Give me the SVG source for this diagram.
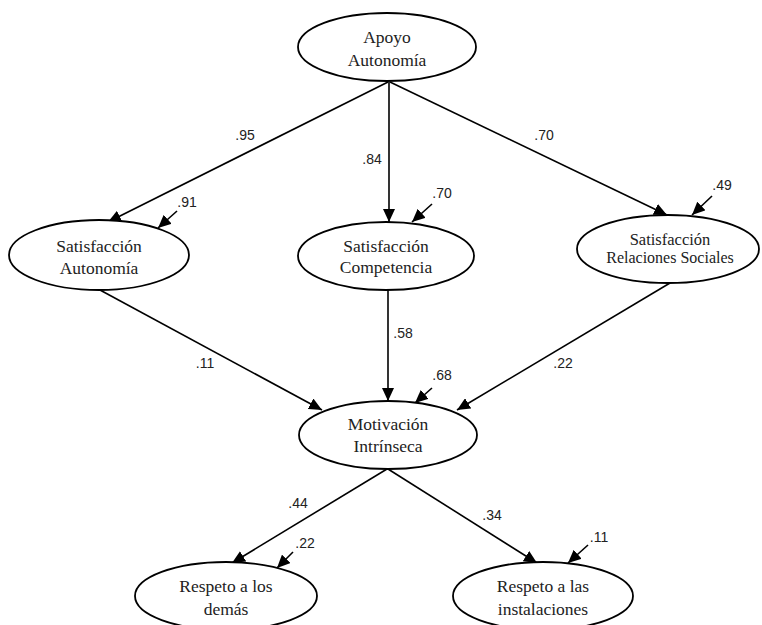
<svg xmlns="http://www.w3.org/2000/svg" width="762" height="625" viewBox="0 0 762 625">
<style>
.n ellipse{fill:#fff;stroke:#000;stroke-width:1.8}
.n text{font-family:"Liberation Serif","Times New Roman",serif;font-size:17.5px;fill:#222;text-anchor:middle}
.c line{stroke:#000;stroke-width:1.6;marker-end:url(#ah)}
.l{font-family:"Liberation Sans",Arial,sans-serif;font-size:14px;fill:#222;text-anchor:middle}
</style>
<defs>
<marker id="ah" markerUnits="userSpaceOnUse" markerWidth="14" markerHeight="12" refX="13" refY="6" orient="auto">
<path d="M0,0 L13,6 L0,12 Z" fill="#000"/>
</marker>
</defs>
<rect width="762" height="625" fill="#fff"/>
<g class="c">
<line x1="388" y1="82" x2="108" y2="222"/>
<line x1="389" y1="82" x2="389" y2="222"/>
<line x1="390" y1="82" x2="667" y2="215"/>
<line x1="100" y1="290" x2="322" y2="410"/>
<line x1="388" y1="290" x2="388" y2="401"/>
<line x1="670" y1="283" x2="457" y2="410"/>
<line x1="387" y1="469" x2="232" y2="563"/>
<line x1="388" y1="469" x2="537" y2="563"/>
<line x1="177" y1="211" x2="158" y2="228"/>
<line x1="432" y1="204" x2="412" y2="222"/>
<line x1="712" y1="196" x2="692" y2="215"/>
<line x1="432" y1="388" x2="415" y2="403"/>
<line x1="293" y1="552" x2="277" y2="568"/>
<line x1="588" y1="545" x2="568" y2="563"/>
</g>
<g id="apoyo" class="n"><ellipse cx="387" cy="47" rx="89" ry="34"/><text x="387" y="43">Apoyo</text><text x="387" y="66">Autonomía</text></g>
<g id="satAut" class="n"><ellipse cx="99" cy="255" rx="90" ry="35"/><text x="99" y="252">Satisfacción</text><text x="99" y="274">Autonomía</text></g>
<g id="satComp" class="n"><ellipse cx="386" cy="256" rx="88" ry="34"/><text x="386" y="252">Satisfacción</text><text x="386" y="273">Competencia</text></g>
<g id="satRel" class="n"><ellipse cx="668" cy="249" rx="91" ry="34"/><text x="670" y="245" style="font-size:16.5px">Satisfacción</text><text x="670" y="263" style="font-size:16px">Relaciones Sociales</text></g>
<g id="motiv" class="n"><ellipse cx="388" cy="435" rx="89" ry="34"/><text x="388" y="430">Motivación</text><text x="388" y="452">Intrínseca</text></g>
<g id="respDem" class="n"><ellipse cx="226" cy="596" rx="91" ry="34"/><text x="226" y="592">Respeto a los</text><text x="226" y="615">demás</text></g>
<g id="respInst" class="n"><ellipse cx="543" cy="596" rx="90" ry="34"/><text x="543" y="592">Respeto a las</text><text x="543" y="615">instalaciones</text></g>
<g id="labels">
<text class="l" x="245" y="140">.95</text>
<text class="l" x="372" y="164">.84</text>
<text class="l" x="544" y="140">.70</text>
<text class="l" x="187" y="207">.91</text>
<text class="l" x="442" y="198">.70</text>
<text class="l" x="722" y="190">.49</text>
<text class="l" x="205" y="368">.11</text>
<text class="l" x="403" y="338">.58</text>
<text class="l" x="563" y="368">.22</text>
<text class="l" x="442" y="380">.68</text>
<text class="l" x="298" y="508">.44</text>
<text class="l" x="492" y="520">.34</text>
<text class="l" x="305" y="548">.22</text>
<text class="l" x="599" y="542">.11</text>
</g>
</svg>
